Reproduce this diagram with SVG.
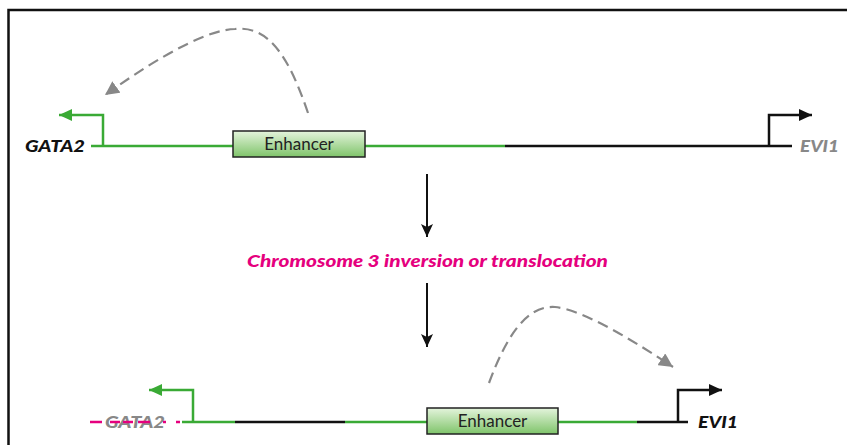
<svg xmlns="http://www.w3.org/2000/svg" width="847" height="445" viewBox="0 0 847 445">
<defs>
<linearGradient id="enh" x1="0" y1="0" x2="0" y2="1">
<stop offset="0" stop-color="#e4f4dc"/>
<stop offset="1" stop-color="#7fc46a"/>
</linearGradient>
<marker id="ah-green" markerWidth="14" markerHeight="12" refX="13" refY="6" orient="auto" markerUnits="userSpaceOnUse">
<path d="M0,0 L13,6 L0,12 Z" fill="#3aaa35"/>
</marker>
<marker id="ah-black" markerWidth="14" markerHeight="12" refX="13" refY="6" orient="auto" markerUnits="userSpaceOnUse">
<path d="M0,0 L13,6 L0,12 Z" fill="#111"/>
</marker>
<marker id="ah-grey" markerWidth="16" markerHeight="14" refX="14" refY="7" orient="auto" markerUnits="userSpaceOnUse">
<path d="M0,0 L14,7 L0,14 Z" fill="#888"/>
</marker>
<marker id="ah-down" markerWidth="14" markerHeight="14" refX="6" refY="13" orient="0" markerUnits="userSpaceOnUse">
<path d="M0,0 L6,3 L12,0 L6,13 Z" fill="#111"/>
</marker>
</defs>
<style>
.green{stroke:#3aaa35;stroke-width:2.5;fill:none}
.black{stroke:#111;stroke-width:2.5;fill:none}
.dash{stroke:#888;stroke-width:2.2;fill:none;stroke-dasharray:11 6}
.gene{font-family:Lato,"Open Sans","Liberation Sans",sans-serif;font-weight:900;font-style:italic;font-size:17px}
.enhtxt{font-family:Lato,"Open Sans","Liberation Sans",sans-serif;font-size:17px;fill:#222;text-anchor:middle}
.box{fill:url(#enh);stroke:#222;stroke-width:1.5}
</style>
<rect width="847" height="445" fill="#fff"/>
<path d="M848,10 H8.5 V446" fill="none" stroke="#111" stroke-width="2.5"/>

<g id="top-chromosome">
<line class="green" x1="91" y1="146" x2="505" y2="146"/>
<line class="black" x1="505" y1="146" x2="792" y2="146"/>
</g>
<g id="gata2-top">
<text class="gene" x="25" y="152" fill="#111" textLength="60" lengthAdjust="spacingAndGlyphs">GATA2</text>
<path class="green" d="M103,146 V115 H59" marker-end="url(#ah-green)"/>
</g>
<g id="enhancer-top">
<rect class="box" x="233" y="131" width="132" height="26"/>
<text class="enhtxt" x="299" y="150">Enhancer</text>
</g>
<g id="evi1-top">
<text class="gene" x="800" y="152" fill="#888" textLength="39" lengthAdjust="spacingAndGlyphs">EVI1</text>
<path class="black" d="M769,146 V115 H812" marker-end="url(#ah-black)"/>
</g>

<g id="translocation-label">
<text class="gene" x="247" y="267" fill="#e5007e" textLength="361" lengthAdjust="spacingAndGlyphs">Chromosome 3 inversion or translocation</text>
</g>

<g id="bottom-chromosome">
<line class="green" x1="182" y1="422" x2="235" y2="422"/>
<line class="black" x1="235" y1="422" x2="345" y2="422"/>
<line class="green" x1="345" y1="422" x2="637" y2="422"/>
<line class="black" x1="637" y1="422" x2="688" y2="422"/>
</g>
<g id="gata2-bottom">
<text class="gene" x="105" y="428" fill="#888" textLength="60" lengthAdjust="spacingAndGlyphs">GATA2</text>
<line x1="90" y1="422" x2="180" y2="422" stroke="#e5007e" stroke-width="2.5" stroke-dasharray="12 8 10 3 10 5 12 13 3 10"/>
<path class="green" d="M193,422 V390 H149" marker-end="url(#ah-green)"/>
</g>
<g id="enhancer-bottom">
<rect class="box" x="427" y="408" width="131" height="26"/>
<text class="enhtxt" x="492.5" y="427">Enhancer</text>
</g>
<g id="evi1-bottom">
<text class="gene" x="698" y="428" fill="#111" textLength="40" lengthAdjust="spacingAndGlyphs">EVI1</text>
<path class="black" d="M678,422 V390 H722" marker-end="url(#ah-black)"/>
</g>

<g id="connectors">
<path class="dash" d="M308,113 C290,60 270,25 235,29 C200,30 140,70 105,95" marker-end="url(#ah-grey)"/>
<path class="dash" d="M489,383 C505,340 525,305 555,307 C585,310 640,345 673,367" marker-end="url(#ah-grey)"/>
<line x1="427" y1="174" x2="427" y2="237" stroke="#111" stroke-width="2" marker-end="url(#ah-down)"/>
<line x1="427" y1="283" x2="427" y2="347" stroke="#111" stroke-width="2" marker-end="url(#ah-down)"/>
</g>
</svg>
